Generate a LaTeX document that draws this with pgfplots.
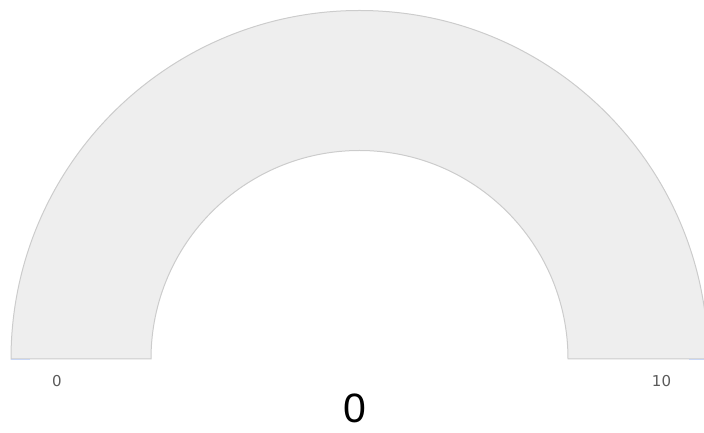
\documentclass[border=0pt]{standalone}
\usepackage{pgfplots}
\pgfplotsset{compat=1.18}
\usepackage{fontspec}
\setmainfont{DejaVu Sans}
\newfontfamily\bigfont{Liberation Sans}
\definecolor{bandfill}{HTML}{EEEEEE}
\definecolor{bandline}{HTML}{CCCCCC}
\definecolor{tickblue}{HTML}{C9D7F5}
\definecolor{lblgray}{HTML}{5A5A5A}
\begin{document}
\begin{tikzpicture}
\begin{axis}[
  scale only axis, width=704bp, height=433bp,
  xmin=0, xmax=704, ymin=0, ymax=433,
  hide axis, clip=true,
]
% gauge band: min 0, max 10, value 0
\fill[bandfill, draw=bandline, line width=1bp]
  (axis cs:11,74) arc[start angle=180, end angle=0, radius=348.5bp]
  -- (axis cs:568,74) arc[start angle=0, end angle=180, radius=208.5bp] -- cycle;
\addplot[tickblue, line width=1.5bp, forget plot] coordinates {(11,73.5) (30,73.5)};
\addplot[tickblue, line width=1.5bp, forget plot] coordinates {(689,73.5) (704,73.5)};
\node[text=lblgray, font=\fontsize{15bp}{17bp}\selectfont] at (axis cs:57,52) {0};
\node[text=lblgray, font=\fontsize{15bp}{17bp}\selectfont] at (axis cs:661.5,52) {10};
\node[text=black, font=\bigfont\fontsize{41bp}{46bp}\selectfont] at (axis cs:355,25) {0};
\end{axis}
\pgfresetboundingbox
\useasboundingbox (current axis.south west) rectangle (current axis.north east);
\end{tikzpicture}
\end{document}
